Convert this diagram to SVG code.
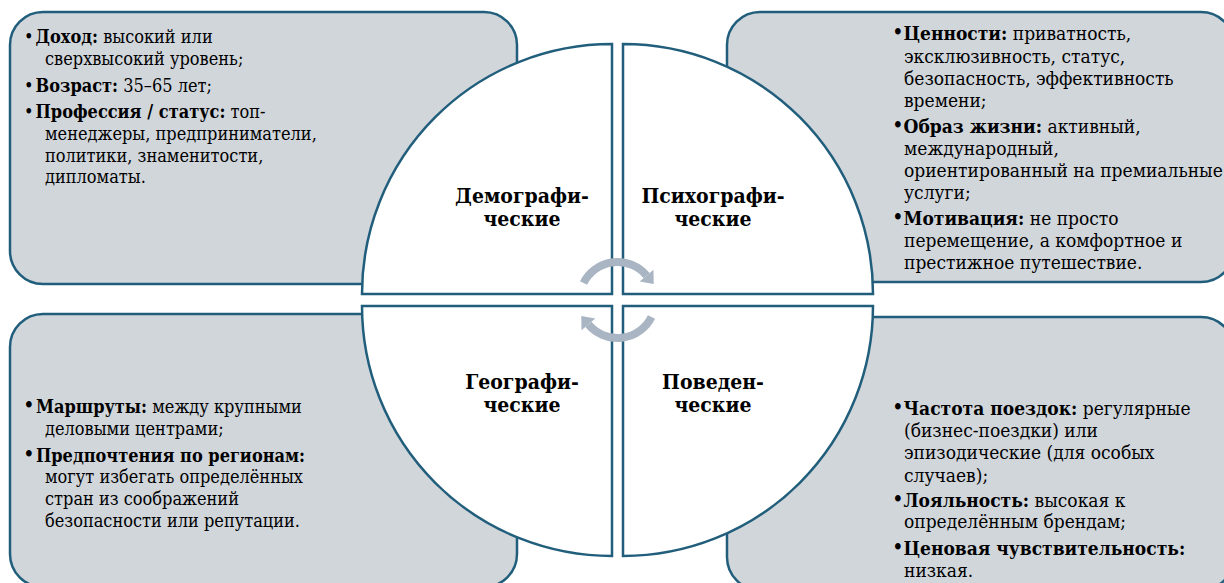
<svg xmlns="http://www.w3.org/2000/svg" width="1224" height="583" viewBox="0 0 1224 583">
<style>
.box{fill:#d1d6db;stroke:#215e7c;stroke-width:2.5}
.quad{fill:#ffffff;stroke:#215e7c;stroke-width:2.5}
.t{font-family:'DejaVu Serif',serif;font-stretch:condensed;font-size:18px;fill:#000}
.r{font-size:19px}
.b{font-weight:bold}
.blt{font-size:22px}
.lbl{font-family:'DejaVu Serif',serif;font-stretch:condensed;font-size:21px;font-weight:bold;fill:#000;text-anchor:middle}
.arc{fill:none;stroke:#a9b5c2;stroke-width:8}
.head{fill:#a9b5c2}
</style>
<rect width="1224" height="583" fill="#ffffff"/>
<g id="box-demographic">
<rect class="box" x="10" y="12" width="507" height="272" rx="33"/>
<text class="t" x="24" y="43">•<tspan class="b" dx="2">Доход:</tspan> высокий или</text>
<text class="t" x="45" y="65">сверхвысокий уровень;</text>
<text class="t" x="24" y="92">•<tspan class="b" dx="2">Возраст:</tspan> 35–65 лет;</text>
<text class="t" x="24" y="118">•<tspan class="b" dx="2">Профессия / статус:</tspan> топ-</text>
<text class="t" x="45" y="140">менеджеры, предприниматели,</text>
<text class="t" x="45" y="162">политики, знаменитости,</text>
<text class="t" x="45" y="183">дипломаты.</text>
</g>
<g id="box-psychographic">
<rect class="box" x="727" y="12" width="507" height="270" rx="33"/>
<text class="t r" x="892" y="40"><tspan class="blt">•</tspan><tspan class="b" x="903.5">Ценности:</tspan> приватность,</text>
<text class="t r" x="904" y="62.5">эксклюзивность, статус,</text>
<text class="t r" x="904" y="85">безопасность, эффективность</text>
<text class="t r" x="904" y="107">времени;</text>
<text class="t r" x="892" y="132.5"><tspan class="blt">•</tspan><tspan class="b" x="903.5">Образ жизни:</tspan> активный,</text>
<text class="t r" x="904" y="155">международный,</text>
<text class="t r" x="904" y="177">ориентированный на премиальные</text>
<text class="t r" x="904" y="199">услуги;</text>
<text class="t r" x="892" y="225"><tspan class="blt">•</tspan><tspan class="b" x="903.5">Мотивация:</tspan> не просто</text>
<text class="t r" x="904" y="247">перемещение, а комфортное и</text>
<text class="t r" x="904" y="268.5">престижное путешествие.</text>
</g>
<g id="box-geographic">
<rect class="box" x="10" y="314" width="507" height="273" rx="33"/>
<text class="t" x="23" y="413"><tspan class="blt">•</tspan><tspan class="b" x="36">Маршруты:</tspan> между крупными</text>
<text class="t" x="45" y="435">деловыми центрами;</text>
<text class="t" x="23" y="461.5"><tspan class="blt">•</tspan><tspan class="b" x="36">Предпочтения по регионам:</tspan></text>
<text class="t" x="45" y="483">могут избегать определённых</text>
<text class="t" x="45" y="505">стран из соображений</text>
<text class="t" x="45" y="527">безопасности или репутации.</text>
</g>
<g id="box-behavioral">
<rect class="box" x="727" y="317" width="507" height="273" rx="33"/>
<text class="t r" x="892" y="415"><tspan class="blt">•</tspan><tspan class="b" x="903.5">Частота поездок:</tspan> регулярные</text>
<text class="t r" x="904" y="437">(бизнес-поездки) или</text>
<text class="t r" x="904" y="459">эпизодические (для особых</text>
<text class="t r" x="904" y="481.5">случаев);</text>
<text class="t r" x="892" y="506.5"><tspan class="blt">•</tspan><tspan class="b" x="903.5">Лояльность:</tspan> высокая к</text>
<text class="t r" x="904" y="528">определённым брендам;</text>
<text class="t r" x="892" y="555"><tspan class="blt">•</tspan><tspan class="b" x="903.5">Ценовая чувствительность:</tspan></text>
<text class="t r" x="904" y="577">низкая.</text>
</g>
<g id="quad-demographic">
<path class="quad" d="M612,294 L362,294 A250,250 0 0 1 612,44 Z"/>
<text class="lbl" x="522" y="203">Демографи-</text>
<text class="lbl" x="522" y="226">ческие</text>
</g>
<g id="quad-psychographic">
<path class="quad" d="M623,294 L623,44 A250,250 0 0 1 873,294 Z"/>
<text class="lbl" x="713" y="203">Психографи-</text>
<text class="lbl" x="713" y="226">ческие</text>
</g>
<g id="quad-geographic">
<path class="quad" d="M612,306 L612,556 A250,250 0 0 1 362,306 Z"/>
<text class="lbl" x="522" y="389">Географи-</text>
<text class="lbl" x="522" y="412">ческие</text>
</g>
<g id="quad-behavioral">
<path class="quad" d="M623,306 L873,306 A250,250 0 0 1 623,556 Z"/>
<text class="lbl" x="713" y="389">Поведен-</text>
<text class="lbl" x="713" y="412">ческие</text>
</g>
<g id="connectors">
<path class="arc" d="M583.5,283 A38,38 0 0 1 646.6,275.6"/>
<polygon class="head" points="653.5,269.8 639.7,281.4 653.7,284"/>
<path class="arc" d="M651.5,317 A38,38 0 0 1 588.4,324.4"/>
<polygon class="head" points="581.5,330.2 595.3,318.6 581.3,316"/>
</g>
</svg>
